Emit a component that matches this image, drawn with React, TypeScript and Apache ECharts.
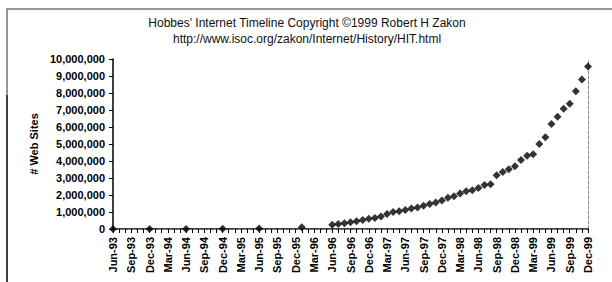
import React, { useEffect, useRef } from "react";
import * as echarts from "echarts";

const titleLines = [
  "Hobbes' Internet Timeline Copyright ©1999 Robert H Zakon",
  "http://www.isoc.org/zakon/Internet/History/HIT.html",
];
const yAxisTitle = "# Web Sites";

const months = [
  "Jun-93", "Jul-93", "Aug-93", "Sep-93", "Oct-93", "Nov-93", "Dec-93",
  "Jan-94", "Feb-94", "Mar-94", "Apr-94", "May-94", "Jun-94", "Jul-94", "Aug-94", "Sep-94", "Oct-94", "Nov-94", "Dec-94",
  "Jan-95", "Feb-95", "Mar-95", "Apr-95", "May-95", "Jun-95", "Jul-95", "Aug-95", "Sep-95", "Oct-95", "Nov-95", "Dec-95",
  "Jan-96", "Feb-96", "Mar-96", "Apr-96", "May-96", "Jun-96", "Jul-96", "Aug-96", "Sep-96", "Oct-96", "Nov-96", "Dec-96",
  "Jan-97", "Feb-97", "Mar-97", "Apr-97", "May-97", "Jun-97", "Jul-97", "Aug-97", "Sep-97", "Oct-97", "Nov-97", "Dec-97",
  "Jan-98", "Feb-98", "Mar-98", "Apr-98", "May-98", "Jun-98", "Jul-98", "Aug-98", "Sep-98", "Oct-98", "Nov-98", "Dec-98",
  "Jan-99", "Feb-99", "Mar-99", "Apr-99", "May-99", "Jun-99", "Jul-99", "Aug-99", "Sep-99", "Oct-99", "Nov-99", "Dec-99",
];

const webSites: (number | null)[] = [
  // 1993 Jun..Dec
  130, null, null, null, null, null, 623,
  // 1994
  null, null, null, null, null, 2738, null, null, null, null, null, 10022,
  // 1995
  null, null, null, null, null, 23500, null, null, null, null, null, null,
  // 1996
  100000, null, null, null, null, 252000, 299403, 342081, 397281, 462047, 525906, 603367,
  // 1997
  646162, 739688, 883149, 1002612, 1044163, 1117255, 1203096, 1269800, 1364714, 1466430, 1553707, 1681868,
  // 1998
  1834710, 1920933, 2084473, 2215195, 2276480, 2410067, 2594622, 2636555, 3156324, 3358969, 3518158, 3689227,
  // 1999
  4062280, 4301512, 4389729, 5000000, 5390316, 6177453, 6598697, 7078194, 7370929, 8100000, 8800000, 9560866,
];

const yMin = 0;
const yMax = 10000000;
const yStep = 1000000;

const FONT = "'Liberation Sans', Arial, sans-serif";

export default function App() {
  const ref = useRef<HTMLDivElement>(null);
  useEffect(() => {
    document.body.style.margin = "0";
    const chart = echarts.init(ref.current!, null, { renderer: "svg" });
    chart.setOption({
      animation: false,
      backgroundColor: "#ffffff",
      textStyle: { fontFamily: FONT },
      title: {
        text: titleLines.join("\n"),
        left: 302,
        top: 10,
        textAlign: "center",
        textStyle: {
          fontFamily: FONT,
          fontSize: 12,
          fontWeight: "normal",
          color: "#111",
          lineHeight: 16,
        },
      },
      graphic: [
        {
          type: "rect",
          shape: { x: 7, y: 9, width: 640, height: 320 },
          style: { fill: "none", stroke: "#777", lineWidth: 1.5 },
          silent: true,
        },
        {
          type: "line",
          shape: { x1: 7, y1: 95, x2: 7, y2: 282 },
          style: { stroke: "#222", lineWidth: 1.5 },
          silent: true,
        },
      ],
      grid: { left: 113, right: 24, top: 59, bottom: 53, containLabel: false },
      xAxis: [
        {
          type: "category",
          data: months,
          boundaryGap: false,
          axisLine: { lineStyle: { color: "#000", width: 1.5 } },
          axisTick: { show: true, interval: 0, length: 4, lineStyle: { color: "#000" } },
          axisLabel: {
            interval: 2,
            rotate: 90,
            margin: 8,
            fontSize: 11,
            fontWeight: "bold",
            color: "#000",
            fontFamily: FONT,
          },
          splitLine: { show: false },
        },
        {
          type: "category",
          data: months,
          boundaryGap: false,
          position: "top",
          axisLine: { lineStyle: { color: "#888", width: 1, type: [3, 2] } },
          axisTick: { show: false },
          axisLabel: { show: false },
        },
      ],
      yAxis: [
        {
          type: "value",
          min: yMin,
          max: yMax,
          interval: yStep,
          name: yAxisTitle,
          nameLocation: "middle",
          nameGap: 73,
          nameTextStyle: { fontSize: 11, fontWeight: "bold", color: "#000", fontFamily: FONT },
          axisLine: { show: true, lineStyle: { color: "#000", width: 1.5 } },
          axisTick: { show: true, length: 4, lineStyle: { color: "#000" } },
          axisLabel: {
            margin: 8,
            fontSize: 11,
            fontWeight: "bold",
            color: "#000",
            fontFamily: FONT,
            formatter: (v: number) => v.toLocaleString("en-US"),
          },
          splitLine: { show: false },
        },
        {
          type: "value",
          min: yMin,
          max: yMax,
          interval: yStep,
          position: "right",
          axisLine: { show: true, lineStyle: { color: "#888", width: 1, type: [3, 2] } },
          axisTick: { show: false },
          axisLabel: { show: false },
          splitLine: { show: false },
        },
      ],
      series: [
        {
          type: "scatter",
          data: webSites,
          symbol: "diamond",
          symbolSize: 8,
          itemStyle: { color: "#000" },
        },
      ],
    });
    return () => chart.dispose();
  }, []);
  return (
    <div
      ref={ref}
      style={{ position: "fixed", left: 0, top: 0, width: 612, height: 282 }}
    />
  );
}
